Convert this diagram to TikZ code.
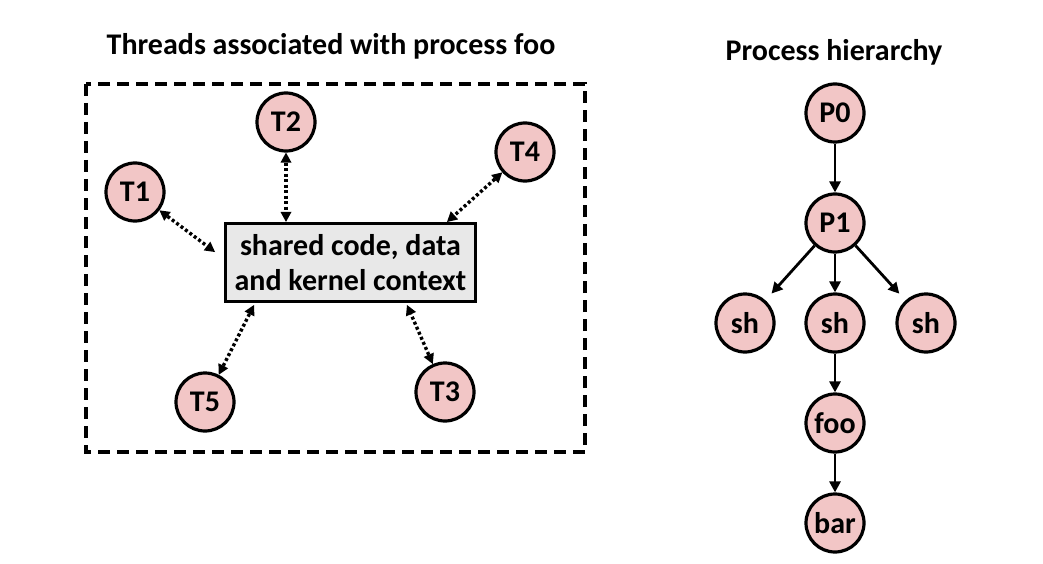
\documentclass[tikz,border=0pt]{standalone}
\usepackage{fontspec}
\setmainfont{Carlito}
\usetikzlibrary{arrows.meta}
\definecolor{pinkfill}{HTML}{F2C6C6}
\definecolor{boxfill}{HTML}{E8E8E8}
\tikzset{
  proc/.style={circle, draw=black, line width=3.2pt, fill=pinkfill, minimum size=58pt, inner sep=0pt, font=\fontsize{30}{34}\selectfont\bfseries},
  shared/.style={rectangle, draw=black, line width=3.2pt, fill=boxfill, minimum width=250pt, minimum height=78pt, align=center, font=\fontsize{30}{35}\selectfont\bfseries},
  darrow/.style={line width=3.4pt, dash pattern=on 3pt off 2.5pt, {Triangle[length=10pt,width=11pt,line width=0pt]}-{Triangle[length=10pt,width=11pt,line width=0pt]}},
  sarrow/.style={line width=2.8pt, -{Triangle[length=11pt,width=11pt]}},
  title/.style={font=\fontsize{30}{34}\selectfont\bfseries},
}
\begin{document}
\begin{tikzpicture}[x=1pt,y=-1pt]
\useasboundingbox (0,0) rectangle (1043,564);
% titles
\node[title] (ttl1) at (331,46) {Threads associated with process foo};
\node[title] (ttl2) at (834,52) {Process hierarchy};
% dashed frame
\draw[line width=3.2pt, dash pattern=on 12pt off 7pt] (86,84) rectangle (585,452);
% threads
\node[shared] (sh) at (350.5,262.5) {shared code, data\\and kernel context};
\node[proc] (T1) at (135,192) {T1};
\node[proc] (T2) at (286,122) {T2};
\node[proc] (T4) at (525,152) {T4};
\node[proc] (T5) at (205,402) {T5};
\node[proc] (T3) at (445,392) {T3};
\coordinate (c1) at (215,252);
\coordinate (c5) at (254,305);
\coordinate (c3) at (407,305);
\coordinate (c4) at (447,222);
\draw[darrow] (T1) -- (c1);
\draw[darrow] (T2) -- (T2 |- sh.north);
\draw[darrow] (T4) -- (c4);
\draw[darrow] (T5) -- (c5);
\draw[darrow] (T3) -- (c3);
% hierarchy
\node[proc] (P0) at (835,113) {P0};
\node[proc] (P1) at (835,223) {P1};
\node[proc] (shL) at (745,323) {sh};
\node[proc] (shM) at (835,323) {sh};
\node[proc] (shR) at (926,323) {sh};
\node[proc] (foo) at (835,423) {foo};
\node[proc] (bar) at (835,523) {bar};
\draw[sarrow] (P0) -- (P1);
\draw[sarrow, shorten >=9pt] (P1) -- (shL);
\draw[sarrow] (P1) -- (shM);
\draw[sarrow, shorten >=9pt] (P1) -- (shR);
\draw[sarrow] (shM) -- (foo);
\draw[sarrow] (foo) -- (bar);
\end{tikzpicture}
\end{document}
